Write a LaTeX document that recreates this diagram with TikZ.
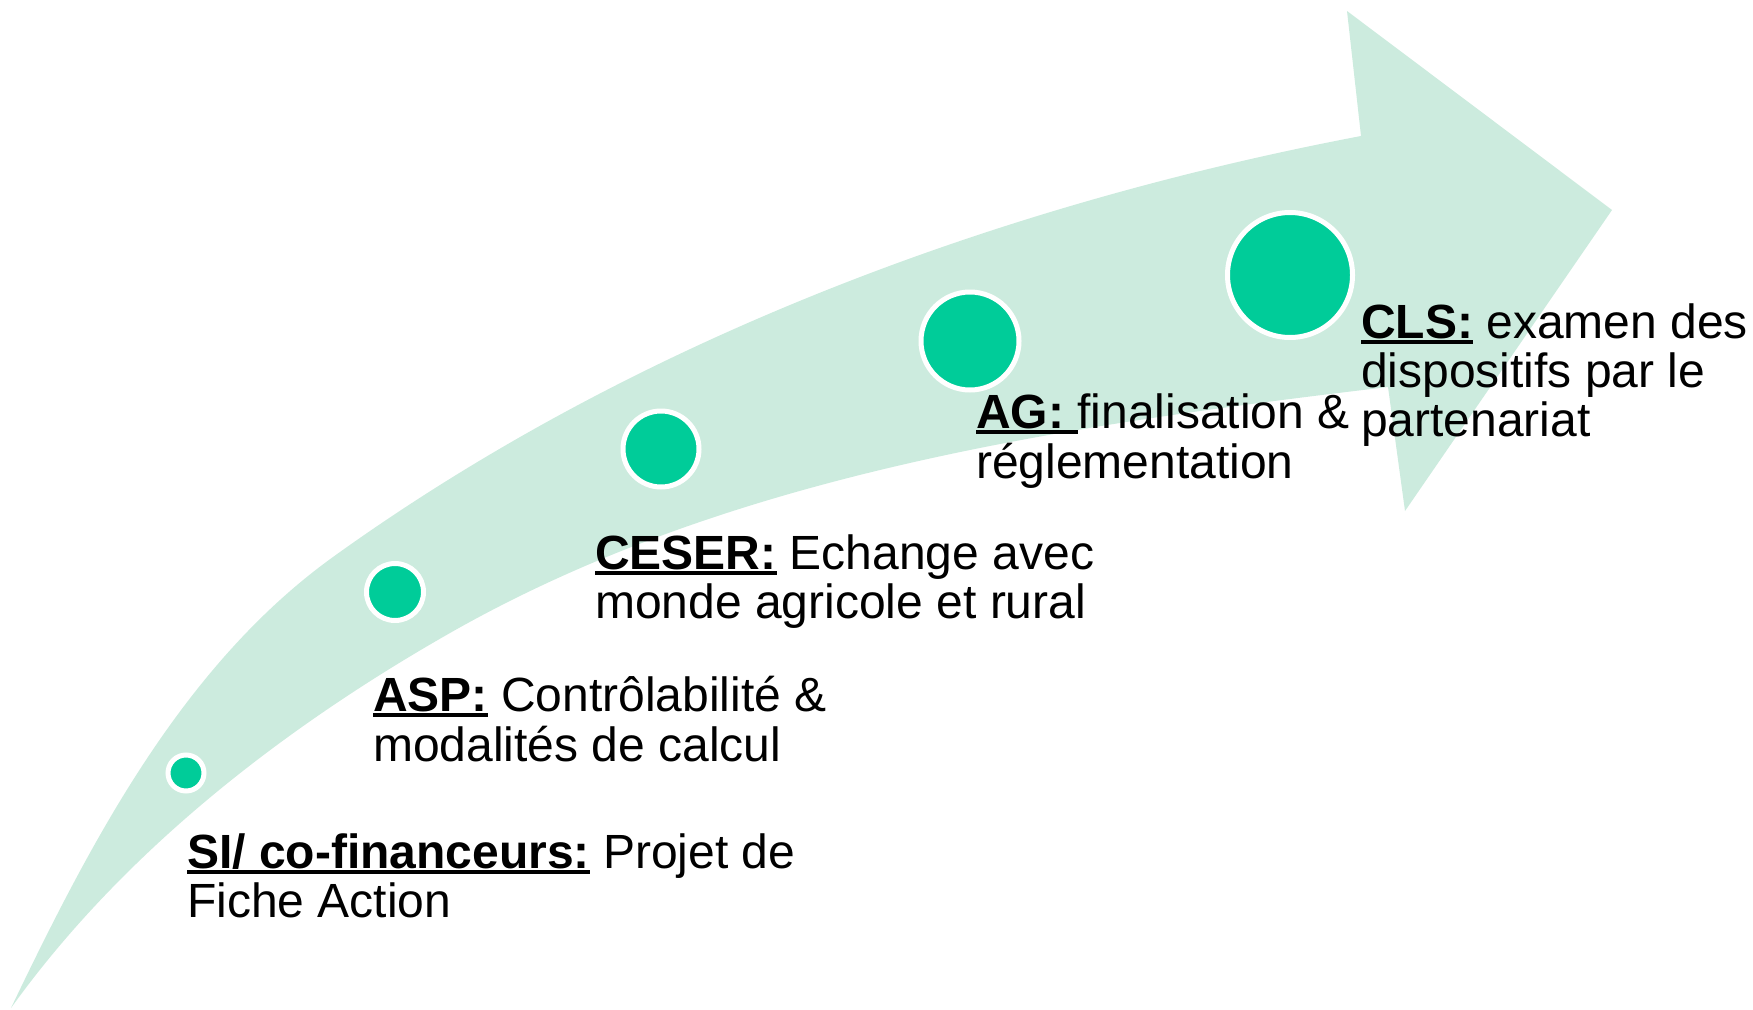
\documentclass[tikz,border=0pt]{standalone}
\usepackage{fontspec}
\setmainfont{Liberation Sans}
\definecolor{arrowgreen}{RGB}{204,235,222}
\definecolor{dotgreen}{RGB}{0,204,153}
\newcommand\myul[1]{\setbox0\hbox{#1}\rlap{\rule[-0.115em]{\wd0}{0.07em}}\box0\relax}
\tikzset{
  stepdot/.style={circle, draw=white, line width=5pt, fill=dotgreen, inner sep=0pt},
  txtblock/.style={anchor=base west, inner sep=0pt, font=\fontsize{48}{49}\selectfont},
}
\begin{document}
\begin{tikzpicture}[x=1pt,y=-1pt]
\useasboundingbox (0,0) rectangle (1753,1009);
% big curved arrow
\fill[arrowgreen]
  (11,1008) .. controls (91,841) and (183,665) .. (333,557)
  .. controls (633,341) and (998,205) .. (1361,136)
  -- (1347,11) -- (1612,210) -- (1405,511) -- (1388,387)
  .. controls (1068,425) and (731,473) .. (450,633)
  .. controls (283,728) and (123,852) .. (11,1008)
  -- cycle;
% dots
\node[stepdot, minimum size=36pt] (d1) at (186,773) {};
\node[stepdot, minimum size=57pt] (d2) at (395,592) {};
\node[stepdot, minimum size=76pt] (d3) at (661,449) {};
\node[stepdot, minimum size=98pt] (d4) at (970,341) {};
\node[stepdot, minimum size=125pt] (d5) at (1290,275) {};
% labels
\node[txtblock] (si) at (187,868) {\begin{tabular}[t]{@{}l@{}}\myul{\textbf{SI/ co-financeurs:}} Projet de\\Fiche Action\end{tabular}};
\node[txtblock] (asp) at (373,711) {\begin{tabular}[t]{@{}l@{}}\myul{\textbf{ASP:}} Contrôlabilité \&\\modalités de calcul\end{tabular}};
\node[txtblock] (ceser) at (595,569) {\begin{tabular}[t]{@{}l@{}}\myul{\textbf{CESER:}} Echange avec\\monde agricole et rural\end{tabular}};
\node[txtblock] (ag) at (976,428) {\begin{tabular}[t]{@{}l@{}}\myul{\textbf{AG: }}finalisation \&\\réglementation\end{tabular}};
\node[txtblock] (cls) at (1361,338) {\begin{tabular}[t]{@{}l@{}}\myul{\textbf{CLS:}} examen des\\dispositifs par le\\partenariat\end{tabular}};
\end{tikzpicture}
\end{document}
